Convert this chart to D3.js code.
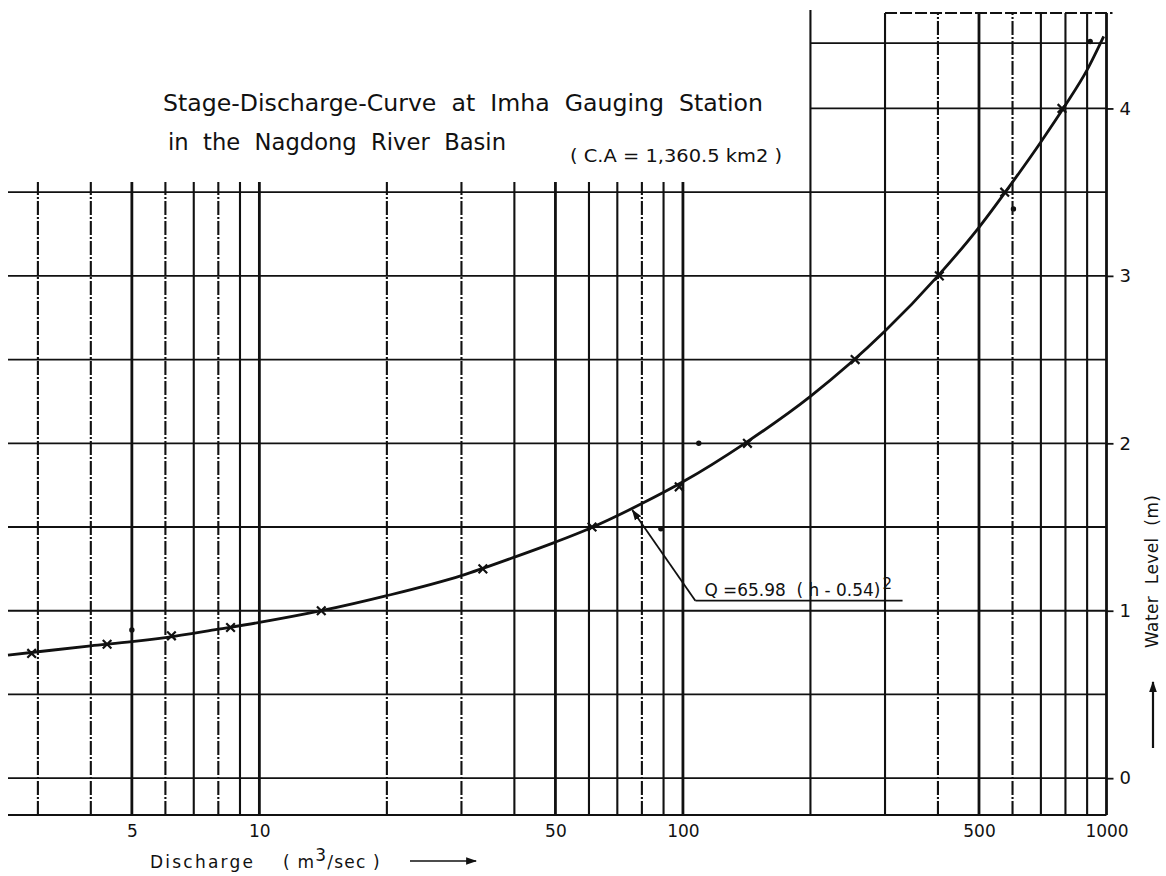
<!DOCTYPE html>
<html>
<head>
<meta charset="utf-8">
<script src="https://cdn.jsdelivr.net/npm/d3@7"></script>
<style>
  html, body { margin: 0; padding: 0; background: #fff; }
  svg { display: block; }
  text { font-family: "DejaVu Sans", "Liberation Sans", sans-serif; fill: #111; white-space: pre; }
</style>
</head>
<body>
<script>
// Rating curve at Imha gauging station: discharge (log scale) against water level.

// Gridline positions on the log-paper
const gridQ = [3, 4, 5, 6, 7, 8, 9, 10, 20, 30, 40, 50, 60, 70, 80, 90, 100,
               200, 300, 400, 500, 600, 700, 800, 900, 1000];
const dashedQ = [3, 4, 6, 8, 20, 30, 80, 400, 600];
const heavyQ = [5, 10, 50, 100, 500, 1000];
const gridH = [0, 0.5, 1, 1.5, 2, 2.5, 3, 3.5];
const upperGridH = [4, 4.39];

// Axis tick labels
const xTicks = [5, 10, 50, 100, 500, 1000];
const xTickLabels = ["5", "10", "50", "100", "500", "1000"];
const yTicks = [0, 1, 2, 3, 4];

// Fitted rating curve (Q m3/sec, h m)
const curveQ = [2.55, 3, 4, 5, 6, 8, 10, 14, 20, 30, 40, 50, 60, 80, 100,
                140, 200, 300, 400, 500, 600, 700, 800, 900, 985];
const curveH = [0.735, 0.755, 0.79, 0.815, 0.84, 0.89, 0.93, 1.0, 1.09, 1.21, 1.32, 1.41, 1.49, 1.64, 1.77,
                2.0, 2.28, 2.67, 3.0, 3.29, 3.56, 3.80, 4.02, 4.23, 4.43];

// Measured points marked with crosses
const crossQ = [2.9, 4.37, 6.2, 8.55, 14, 33.7, 61, 98, 142, 255, 403, 575, 785];
const crossH = [0.745, 0.80, 0.85, 0.90, 1.0, 1.25, 1.5, 1.74, 2.0, 2.5, 3.0, 3.5, 4.0];

// Measured points marked with dots
const dotQ = [5, 88.7, 109, 603, 915];
const dotH = [0.885, 1.49, 2.0, 3.4, 4.4];

// Formula annotation: leader from the label to the curve
const noteTipQ = 76, noteTipH = 1.6;
const noteQ = 107, noteH = 1.06, noteEndQ = 330;

// Paper extents
const qMin = 2.55, qMax = 1000, hMin = -0.22, hMax = 4.57;
const splitQ = 200, leftTopH = 3.56;

const W = 1166, H = 876;
const svg = d3.select("body").append("svg").attr("width", W).attr("height", H);
svg.append("rect").attr("width", W).attr("height", H).attr("fill", "#fff");

const x = d3.scaleLog().domain([qMin, qMax]).range([8, 1106.5]);
const y = d3.scaleLinear().domain([hMin, hMax]).range([815, 13]);

const ink = "#111";
const grid = svg.append("g").attr("stroke", ink).attr("fill", "none");

// vertical (discharge) gridlines
grid.selectAll("line.v").data(gridQ).join("line")
  .attr("class", "v")
  .attr("x1", d => x(d)).attr("x2", d => x(d))
  .attr("y1", y(hMin))
  .attr("y2", d => d < splitQ ? y(leftTopH) : (d === splitQ ? y(hMax) - 3 : y(hMax)))
  .attr("stroke-width", d => heavyQ.includes(d) ? 2.8 : 2.1)
  .attr("stroke-dasharray", d => dashedQ.includes(d) ? "14,2,2,2" : null);

// horizontal (water level) gridlines
grid.selectAll("line.h").data(gridH).join("line")
  .attr("class", "h")
  .attr("x1", x(qMin)).attr("x2", x(qMax))
  .attr("y1", d => y(d)).attr("y2", d => y(d))
  .attr("stroke-width", 1.8);

grid.selectAll("line.hu").data(upperGridH).join("line")
  .attr("class", "hu")
  .attr("x1", x(splitQ)).attr("x2", x(qMax))
  .attr("y1", d => y(d)).attr("y2", d => y(d))
  .attr("stroke-width", 1.8);

// bottom edge and the dashed top edge of the upper panel
grid.append("line")
  .attr("x1", x(qMin)).attr("x2", x(qMax))
  .attr("y1", y(hMin)).attr("y2", y(hMin))
  .attr("stroke-width", 2.2);
grid.append("line")
  .attr("x1", x(300)).attr("x2", x(qMax) + 6)
  .attr("y1", y(hMax)).attr("y2", y(hMax))
  .attr("stroke-width", 1.8).attr("stroke-dasharray", "12,3");

// bottom axis labels
const xAxis = d3.axisBottom(x).tickValues(xTicks)
  .tickFormat((d, i) => xTickLabels[i]).tickSize(0).tickPadding(10);
const gx = svg.append("g").attr("transform", `translate(0,${y(hMin)})`).call(xAxis);
gx.select(".domain").remove();
gx.selectAll("text").attr("font-size", 17).attr("fill", ink)
  .attr("font-family", "DejaVu Sans, sans-serif");

// right axis with water level
const yAxis = d3.axisRight(y).tickValues(yTicks).tickFormat(d3.format("d"))
  .tickSize(7).tickPadding(6);
const gy = svg.append("g").attr("transform", `translate(${x(qMax)},0)`).call(yAxis);
gy.select(".domain").remove();
gy.selectAll("line").attr("stroke", ink).attr("stroke-width", 1.8);
gy.selectAll("text").attr("font-size", 18).attr("fill", ink)
  .attr("font-family", "DejaVu Sans, sans-serif");

// rating curve
const curvePts = curveQ.map((q, i) => [q, curveH[i]]);
svg.append("path")
  .datum(curvePts)
  .attr("fill", "none").attr("stroke", ink).attr("stroke-width", 2.8)
  .attr("d", d3.line().x(d => x(d[0])).y(d => y(d[1])).curve(d3.curveMonotoneX));

// measured points
const cross = d3.symbol(d3.symbolTimes, 50);
svg.append("g").selectAll("path").data(crossQ.map((q, i) => [q, crossH[i]])).join("path")
  .attr("transform", d => `translate(${x(d[0])},${y(d[1])})`)
  .attr("d", cross).attr("stroke", ink).attr("stroke-width", 2.2).attr("fill", "none");

svg.append("g").selectAll("circle").data(dotQ.map((q, i) => [q, dotH[i]])).join("circle")
  .attr("cx", d => x(d[0])).attr("cy", d => y(d[1])).attr("r", 2.7).attr("fill", ink);

// arrow heads
const defs = svg.append("defs");
defs.append("marker").attr("id", "head")
  .attr("viewBox", "0 0 10 10").attr("refX", 9).attr("refY", 5)
  .attr("markerWidth", 11).attr("markerHeight", 11).attr("orient", "auto")
  .attr("markerUnits", "userSpaceOnUse")
  .append("path").attr("d", "M0,1.5L10,5L0,8.5Z").attr("fill", ink);

// formula annotation
const ax = x(noteQ), ay = y(noteH);
svg.append("line")
  .attr("x1", ax).attr("y1", ay).attr("x2", x(noteEndQ)).attr("y2", ay)
  .attr("stroke", ink).attr("stroke-width", 1.8);
svg.append("line")
  .attr("x1", ax).attr("y1", ay).attr("x2", x(noteTipQ)).attr("y2", y(noteTipH))
  .attr("stroke", ink).attr("stroke-width", 1.8).attr("marker-end", "url(#head)");
const note = svg.append("g");
note.append("text").attr("x", ax + 9).attr("y", ay - 5).attr("font-size", 17)
  .attr("textLength", 176).attr("lengthAdjust", "spacingAndGlyphs")
  .text("Q =65.98  ( h - 0.54)");
note.append("text").attr("x", ax + 187).attr("y", ay - 12).attr("font-size", 15).text("2");

// titles
svg.append("text").attr("x", 163).attr("y", 111).attr("font-size", 23)
  .attr("textLength", 600).attr("lengthAdjust", "spacingAndGlyphs")
  .text("Stage-Discharge-Curve  at  Imha  Gauging  Station");
svg.append("text").attr("x", 168).attr("y", 150).attr("font-size", 23)
  .attr("textLength", 338).attr("lengthAdjust", "spacingAndGlyphs")
  .text("in  the  Nagdong  River  Basin");
svg.append("text").attr("x", 570).attr("y", 162).attr("font-size", 17)
  .attr("textLength", 212).attr("lengthAdjust", "spacingAndGlyphs")
  .text("( C.A = 1,360.5 km2 )");

// discharge axis title with arrow
svg.append("text").attr("x", 150).attr("y", 868).attr("font-size", 17)
  .attr("textLength", 103).attr("lengthAdjust", "spacing")
  .text("Discharge");
const xt = svg.append("text").attr("x", 283).attr("y", 868).attr("font-size", 17)
  .attr("letter-spacing", 1.2);
xt.append("tspan").text("( m");
xt.append("tspan").attr("dy", -7).attr("font-size", 17).text("3");
xt.append("tspan").attr("dy", 7).text("/sec )");
svg.append("line").attr("x1", 410).attr("y1", 861).attr("x2", 476).attr("y2", 861)
  .attr("stroke", ink).attr("stroke-width", 1.6).attr("marker-end", "url(#head)");

// water level axis title with arrow
svg.append("text")
  .attr("transform", "translate(1158,648) rotate(-90)")
  .attr("font-size", 17)
  .attr("textLength", 153).attr("lengthAdjust", "spacing")
  .text("Water  Level  (m)");
svg.append("line").attr("x1", 1153).attr("y1", 748).attr("x2", 1153).attr("y2", 682)
  .attr("stroke", ink).attr("stroke-width", 2.2).attr("marker-end", "url(#head)");
</script>
</body>
</html>
